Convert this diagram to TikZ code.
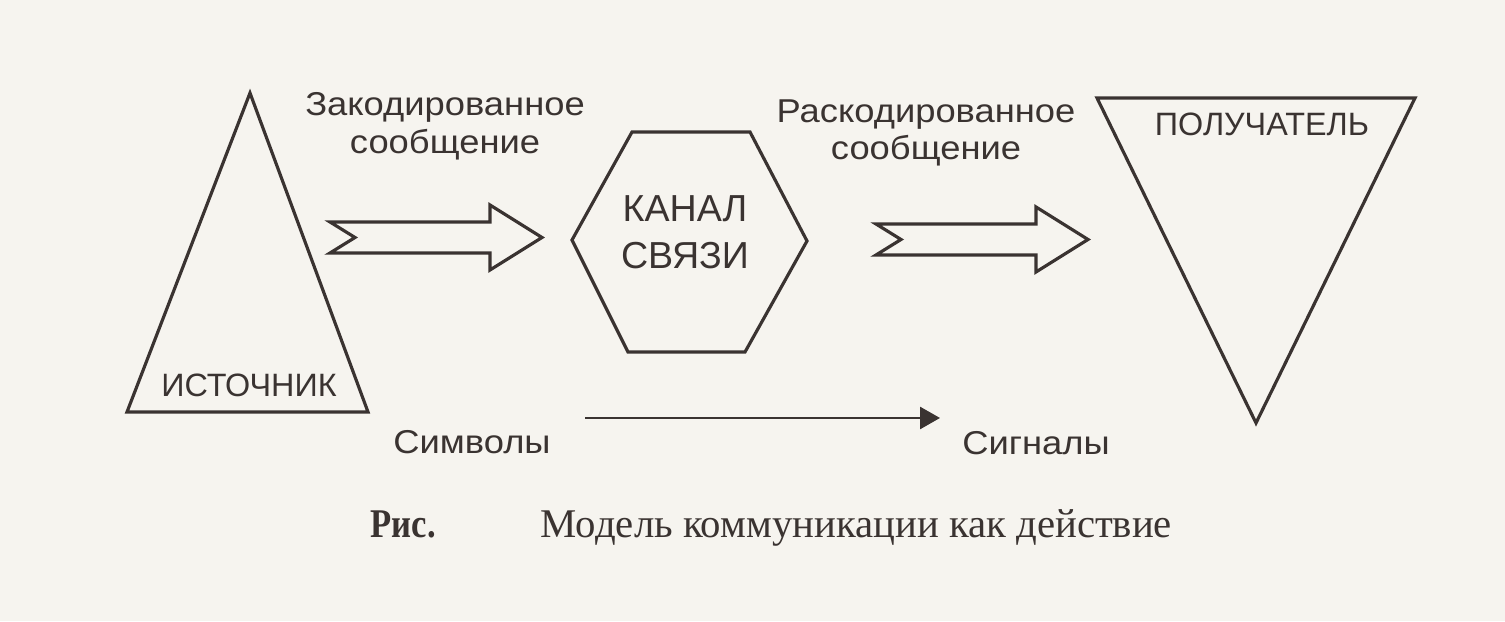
\documentclass[tikz,border=0pt]{standalone}
\usepackage{fontspec}
\setmainfont{Liberation Serif}
\setsansfont{Liberation Sans}
\usetikzlibrary{arrows.meta}
\definecolor{ink}{HTML}{3A3331}
\definecolor{paper}{HTML}{F6F4EF}

\begin{document}
\begin{tikzpicture}[>={Triangle[length=2mm,width=2.2mm]}]
\tikzset{
  shapeline/.style={draw=ink,line width=0.9pt,line join=miter},
  boxlabel/.style={font=\sffamily\fontsize{9.2}{12.8}\selectfont,text=ink,inner sep=0pt,align=center},
  msglabel/.style={font=\sffamily\fontsize{9.4}{10.6}\selectfont,text=ink,inner sep=0pt,align=center,xscale=1.1},
  caption/.style={font=\fontsize{11.6}{12}\selectfont,text=ink,inner sep=0pt,anchor=base west}
}
\fill[paper] (0,0) rectangle (15.05,6.21);
\useasboundingbox (0,0) rectangle (15.05,6.21);

% source, channel, receiver
\draw[shapeline] (2.50,5.28)--(3.68,2.09)--(1.27,2.09)--cycle;
\node[boxlabel] (source) at (2.49,2.36) {ИСТОЧНИК};
\draw[shapeline] (6.32,4.89)--(7.50,4.89)--(8.07,3.80)--(7.45,2.69)--(6.28,2.69)--(5.72,3.81)--cycle;
\node[boxlabel,font=\sffamily\fontsize{10.7}{13.4}\selectfont] (channel) at (6.85,3.89) {КАНАЛ\\СВЯЗИ};
\draw[shapeline] (10.97,5.23)--(14.15,5.23)--(12.56,1.98)--cycle;
\node[boxlabel] (receiver) at (12.62,4.97) {ПОЛУЧАТЕЛЬ};

% block arrows
\foreach \x/\y in {3.30/3.835,8.76/3.815}{
  \draw[shapeline] (\x,\y+.155)--++(1.60,0)--++(0,.17)--(\x+2.12,\y)
    --(\x+1.60,\y-.325)--++(0,.17)--(\x,\y-.155)--(\x+.25,\y)--cycle;
}
\node[msglabel,anchor=north] (coded) at (4.45,5.29) {Закодированное\\сообщение};
\node[msglabel,anchor=north] (decoded) at (9.26,5.22) {Раскодированное\\сообщение};

% symbols to signals
\node[msglabel,anchor=base] (symbols) at (4.72,1.67) {Символы};
\node[msglabel,anchor=base] (signals) at (10.36,1.66) {Сигналы};
\coordinate (symend) at (5.85,2.03);
\coordinate (sigend) at (9.40,2.03);
\draw[->,ink,line width=0.8pt] (symend)--(sigend);

\node[caption,font=\bfseries\fontsize{11.6}{12}\selectfont,xscale=0.85] (fig) at (3.70,0.84) {Рис.};
\node[caption] (title) at (5.40,0.84) {Модель коммуникации как действие};
\end{tikzpicture}
\end{document}
